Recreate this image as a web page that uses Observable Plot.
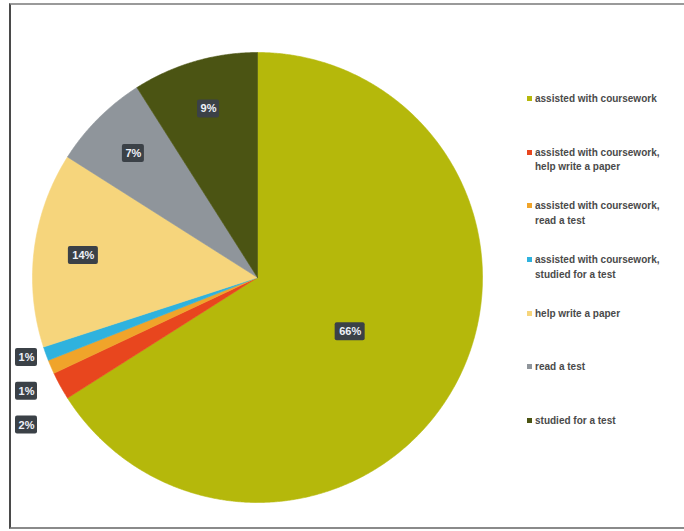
<!DOCTYPE html>
<html><head><meta charset="utf-8">
<script src="https://cdn.jsdelivr.net/npm/d3@7"></script>
<script src="https://cdn.jsdelivr.net/npm/@observablehq/plot@0.6"></script>
<style>
body{margin:0;background:#fff;font-family:"Liberation Sans",Arial,sans-serif;width:684px;height:531px;overflow:hidden;position:relative;}
#frame{position:absolute;left:9px;top:3px;width:680px;height:526px;border-left:2px solid #4a4a4a;border-top:2px solid #9a9a9a;border-bottom:2px solid #8a8a8a;box-sizing:border-box;pointer-events:none;}
#chart{position:absolute;left:0;top:0;}
#legend{position:absolute;left:527px;top:92px;width:152px;}
.item{height:53.7px;display:flex;align-items:flex-start;}
.sw{width:5px;height:5px;flex:none;margin-right:3px;margin-top:4px;}
.lab{font-size:10px;font-weight:bold;color:#4a4a4a;line-height:14.5px;}
</style></head>
<body>
<div id="chart"></div>
<div id="legend"></div>
<div id="frame"></div>
<script>
const categories = [
  "assisted with coursework",
  "assisted with coursework, help write a paper",
  "assisted with coursework, read a test",
  "assisted with coursework, studied for a test",
  "help write a paper",
  "read a test",
  "studied for a test"
];
const values = [66, 2, 1, 1, 14, 7, 9];
const colors = ["#b5b80b", "#e8461e", "#f0a42a", "#2fb2de", "#f6d57c", "#8f959b", "#4b5413"];

const pie = d3.pie().sort(null).value(d => d.value);
const data = categories.map((c, i) => ({key: c, value: values[i], color: colors[i]}));
const arcs = pie(data);

// wedge polygons
const pts = [];
arcs.forEach(a => {
  const k = a.data.key, col = a.data.color;
  pts.push({key: k, color: col, x: 0, y: 0});
  const n = Math.max(2, Math.ceil((a.endAngle - a.startAngle) / 0.005));
  for (let j = 0; j <= n; j++) {
    const t = a.startAngle + (a.endAngle - a.startAngle) * j / n;
    pts.push({key: k, color: col, x: Math.sin(t), y: Math.cos(t)});
  }
  pts.push({key: k, color: col, x: 0, y: 0});
});

// labels
const R = 225; // px per unit
const labels = [];
const outside = [];
arcs.forEach(a => {
  const mid = (a.startAngle + a.endAngle) / 2;
  const txt = a.data.value + "%";
  if (a.data.value >= 50) labels.push({text: txt, x: 0.47 * Math.sin(mid), y: 0.5 * Math.cos(mid)});
  else if (a.data.value >= 5) labels.push({text: txt, x: 0.78 * Math.sin(mid), y: 0.78 * Math.cos(mid)});
  else outside.push({text: txt, x: -231 / R, y: 1.05 * Math.cos(mid)});
});
outside.sort((p, q) => q.y - p.y);
for (let i = 1; i < outside.length; i++) {
  outside[i].y = Math.min(outside[i].y, outside[i - 1].y - 0.15);
}
labels.push(...outside);
labels.forEach(l => { l.hw = (l.text.length * 8 + 6) / 2 / R; l.hh = 9 / R; });

const chart = Plot.plot({
  width: 684, height: 531,
  marginLeft: 32, marginRight: 202, marginTop: 52, marginBottom: 29,
  x: {domain: [-1, 1], axis: null},
  y: {domain: [-1, 1], axis: null},
  color: {type: "identity"},
  style: {background: "transparent", fontFamily: "Liberation Sans, Arial, sans-serif"},
  marks: [
    Plot.line(pts, {x: "x", y: "y", z: "key", fill: "color", stroke: "color", strokeWidth: 0.6, curve: "linear"}),
    Plot.rect(labels, {x1: d => d.x - d.hw, x2: d => d.x + d.hw, y1: d => d.y - d.hh, y2: d => d.y + d.hh, fill: "#3b4147", rx: 2}),
    Plot.text(labels, {x: "x", y: "y", text: "text", fill: "#eef1f8", fontSize: 11, fontWeight: "bold"})
  ]
});
document.getElementById("chart").appendChild(chart);

const legend = document.getElementById("legend");
categories.forEach((c, i) => {
  const it = document.createElement("div");
  it.className = "item";
  const sw = document.createElement("div");
  sw.className = "sw";
  sw.style.background = colors[i];
  const lab = document.createElement("div");
  lab.className = "lab";
  lab.textContent = c;
  it.appendChild(sw); it.appendChild(lab);
  legend.appendChild(it);
});
</script>
</body></html>
